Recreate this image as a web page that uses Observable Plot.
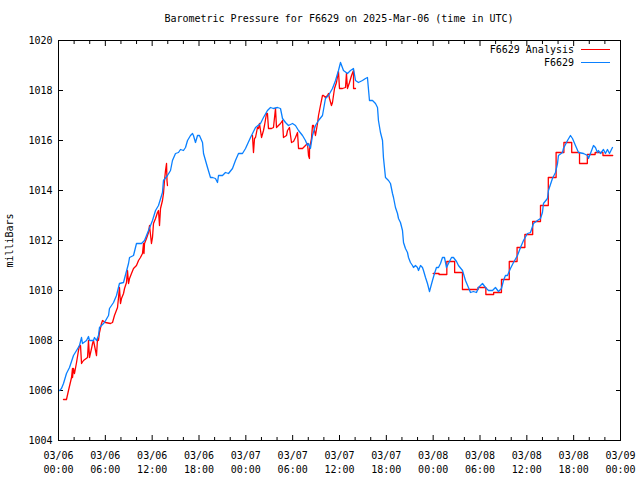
<!DOCTYPE html>
<html><head><meta charset="utf-8">
<script src="https://cdn.jsdelivr.net/npm/d3@7"></script>
<script src="https://cdn.jsdelivr.net/npm/@observablehq/plot@0.6"></script>
<style>
body{margin:0;background:#fff;font-family:"DejaVu Sans Mono",monospace;color:#000;}
#wrap{position:relative;width:640px;height:480px;overflow:hidden;}
#title{height:30px;box-sizing:border-box;padding:13px 20px 0 58px;text-align:center;font-size:10px;line-height:12px;white-space:nowrap;}
#legend{position:absolute;top:43px;left:420px;width:200px;font-size:10px;}
.row{display:flex;justify-content:flex-end;align-items:center;height:13px;padding-right:10px;}
.sw{width:29px;height:0;border-top:1.3px solid;margin-left:7px;}
</style></head>
<body>
<div id="wrap">
<div id="title">Barometric Pressure for F6629 on 2025-Mar-06 (time in UTC)</div>
<div id="chart"></div>
<div id="legend"></div>
</div>
<script>
const startUTC = Date.UTC(2025, 2, 6);
const endUTC = Date.UTC(2025, 2, 9);
const yTicks = [1004, 1006, 1008, 1010, 1012, 1014, 1016, 1018, 1020];
const seriesNames = ["F6629 Analysis", "F6629"];
const seriesColors = ["#ff0000", "#0a80ff"];

// observed pressure: [hours since 03/06 00:00 UTC, mb]
const observed = [[0.13,1006.0],[0.38,1006.08],[0.64,1006.28],[1.02,1006.68],[1.41,1006.92],[1.92,1007.4],[2.31,1007.6],[2.69,1007.8],[2.95,1008.12],[3.07,1007.88],[3.59,1008.0],[3.84,1008.16],[3.97,1008.0],[4.48,1008.0],[4.61,1008.12],[4.87,1008.0],[5.12,1008.2],[5.25,1008.52],[5.51,1008.6],[5.89,1008.72],[6.41,1009.0],[6.53,1009.28],[7.05,1009.52],[7.43,1009.8],[7.81,1010.28],[8.33,1010.32],[8.46,1010.48],[8.97,1011.08],[9.10,1011.32],[9.61,1011.4],[9.99,1011.88],[10.63,1011.88],[11.02,1012.0],[11.53,1012.4],[12.04,1012.8],[12.43,1013.2],[12.81,1013.4],[13.32,1013.92],[13.45,1014.4],[13.96,1014.6],[14.35,1014.8],[14.60,1015.2],[14.99,1015.48],[15.37,1015.52],[15.63,1015.64],[16.01,1015.6],[16.27,1015.72],[16.53,1016.0],[16.91,1016.2],[17.17,1016.28],[17.29,1016.2],[17.55,1015.92],[17.81,1016.2],[18.06,1016.2],[18.45,1015.92],[18.58,1015.48],[19.09,1014.92],[19.47,1014.52],[19.73,1014.52],[20.11,1014.48],[20.37,1014.32],[20.50,1014.6],[21.01,1014.6],[21.39,1014.72],[21.78,1014.68],[22.29,1014.88],[22.67,1015.2],[23.06,1015.48],[23.57,1015.48],[23.96,1015.68],[24.60,1016.12],[25.24,1016.52],[25.88,1016.68],[26.26,1016.92],[26.77,1017.2],[27.16,1017.32],[27.54,1017.28],[28.06,1017.32],[28.44,1017.28],[28.70,1016.88],[29.08,1016.72],[29.46,1016.6],[29.98,1016.68],[30.36,1016.6],[30.75,1016.4],[31.26,1016.2],[31.64,1016.0],[31.90,1015.8],[32.03,1015.88],[32.28,1015.68],[32.54,1016.2],[32.92,1016.6],[33.31,1016.8],[33.82,1017.0],[34.20,1017.68],[34.59,1017.8],[35.10,1018.08],[35.49,1018.4],[35.87,1018.8],[36.13,1019.12],[36.51,1018.8],[37.02,1018.68],[37.41,1018.8],[37.79,1018.88],[38.05,1018.4],[38.43,1018.32],[38.94,1018.4],[39.33,1018.48],[39.58,1018.52],[39.84,1017.6],[40.23,1017.6],[40.61,1017.48],[40.87,1017.32],[40.99,1016.8],[41.25,1016.32],[41.51,1016.0],[41.63,1015.32],[41.89,1014.52],[42.28,1014.4],[42.53,1014.28],[42.79,1013.88],[42.92,1013.72],[43.17,1013.32],[43.43,1013.08],[43.56,1012.88],[43.81,1012.72],[44.07,1012.4],[44.20,1011.92],[44.45,1011.68],[44.71,1011.52],[44.84,1011.32],[45.09,1011.12],[45.35,1011.0],[45.48,1010.92],[45.73,1011.0],[45.99,1010.92],[46.12,1010.8],[46.38,1011.0],[46.63,1010.92],[46.76,1010.8],[47.02,1010.52],[47.27,1010.28],[47.53,1009.96],[47.91,1010.4],[48.17,1010.68],[48.42,1010.92],[48.68,1010.92],[48.94,1011.08],[49.19,1011.32],[49.45,1011.32],[49.71,1010.92],[49.96,1011.08],[50.35,1011.32],[50.60,1011.32],[50.99,1011.16],[51.24,1011.0],[51.76,1010.8],[52.14,1010.4],[52.52,1010.12],[52.78,1009.92],[53.16,1009.96],[53.55,1009.92],[53.81,1010.12],[54.32,1010.28],[54.70,1010.12],[55.09,1010.0],[55.60,1010.0],[55.98,1010.12],[56.37,1009.96],[56.75,1010.08],[57.01,1010.4],[57.26,1010.6],[57.52,1010.6],[57.90,1010.88],[58.29,1011.12],[58.80,1011.4],[59.19,1011.72],[59.57,1012.0],[60.08,1012.28],[60.47,1012.32],[60.85,1012.68],[61.36,1012.8],[61.75,1012.88],[62.00,1013.12],[62.13,1013.48],[62.64,1013.68],[62.77,1014.0],[63.28,1014.48],[63.67,1014.72],[63.93,1015.08],[64.05,1015.4],[64.57,1015.52],[64.69,1015.68],[65.21,1016.0],[65.59,1016.2],[65.85,1016.08],[66.23,1015.8],[66.62,1015.52],[67.26,1015.48],[67.77,1015.4],[67.90,1015.28],[68.15,1015.48],[68.54,1015.8],[68.79,1015.72],[69.05,1015.52],[69.18,1015.6],[69.43,1015.48],[69.82,1015.64],[70.07,1015.48],[70.33,1015.64],[70.59,1015.48],[70.84,1015.64],[70.97,1015.72]];

// analysis, first run (03/06 morning)
const analysisRun1 = [[0.64,1005.64],[1.02,1005.64],[1.28,1006.0],[1.67,1006.52],[1.79,1006.88],[1.80,1006.52],[1.92,1006.88],[2.05,1006.68],[2.31,1007.12],[2.56,1007.6],[2.69,1007.8],[2.82,1007.8],[2.95,1007.08],[3.20,1007.2],[3.72,1007.32],[3.84,1008.0],[3.97,1007.32],[4.23,1007.68],[4.36,1007.88],[4.48,1008.0],[4.87,1007.4],[5.00,1008.08],[5.12,1008.0],[5.25,1008.32],[5.51,1008.68],[5.64,1008.8],[6.02,1008.72],[6.66,1008.68],[6.92,1008.72],[7.17,1009.0],[7.56,1009.32],[7.69,1009.72],[7.81,1010.12],[7.94,1009.48],[8.07,1009.68],[8.33,1009.88],[8.46,1010.08],[8.71,1010.32],[8.84,1010.8],[8.97,1010.28],[9.10,1010.48],[9.35,1010.68],[9.61,1010.88],[9.99,1011.0],[10.25,1011.2],[10.50,1011.32],[10.76,1011.48],[10.89,1011.88],[10.95,1011.48],[11.02,1011.88],[11.27,1012.08],[11.53,1012.32],[11.66,1012.6],[11.91,1011.88],[12.04,1012.12],[12.17,1012.68],[12.43,1012.88],[12.68,1013.12],[12.81,1013.2],[12.94,1012.6],[13.07,1013.28],[13.32,1013.6],[13.45,1013.88],[13.58,1014.4],[13.71,1014.8],[13.84,1015.08],[13.90,1014.4],[13.96,1014.2]];

// analysis, second run (03/07 daytime)
const analysisRun2 = [[24.85,1016.2],[24.98,1015.52],[25.11,1016.08],[25.24,1016.12],[25.49,1016.52],[25.62,1016.48],[25.75,1016.68],[26.01,1016.12],[26.26,1016.4],[26.39,1016.6],[26.65,1017.08],[26.77,1017.08],[26.90,1016.48],[27.29,1016.48],[27.54,1016.52],[27.80,1017.28],[27.93,1016.52],[28.18,1016.6],[28.44,1016.68],[28.70,1016.8],[28.82,1016.12],[29.21,1016.2],[29.34,1016.4],[29.59,1016.52],[29.85,1015.92],[30.11,1015.96],[30.36,1016.12],[30.62,1016.32],[30.75,1015.68],[31.26,1015.68],[31.64,1015.8],[31.90,1015.88],[32.03,1015.4],[32.15,1015.28],[32.16,1015.68],[32.41,1016.08],[32.54,1016.6],[32.67,1016.6],[32.92,1016.2],[33.18,1016.68],[33.31,1017.0],[33.56,1017.4],[33.82,1017.8],[33.95,1017.8],[34.20,1017.72],[34.46,1017.8],[34.59,1017.88],[34.72,1017.68],[34.97,1017.4],[35.10,1017.52],[35.23,1017.8],[35.36,1018.08],[35.61,1018.32],[35.87,1018.76],[36.00,1018.08],[36.38,1018.08],[36.77,1018.12],[36.89,1018.68],[37.02,1018.08],[37.28,1018.32],[37.54,1018.6],[37.79,1018.8],[37.80,1018.08],[38.05,1018.08]];

// analysis, third run (03/08, hourly steps)
const analysisSteps = [[48.0,1010.68],[48.75,1010.64],[49.75,1011.16],[50.75,1010.72],[51.75,1010.04],[52.75,1010.04],[53.75,1010.12],[54.75,1009.84],[55.75,1009.92],[56.75,1010.44],[57.75,1011.16],[58.75,1011.72],[59.75,1012.24],[60.75,1012.76],[61.75,1013.4],[62.75,1014.52],[63.75,1015.52],[64.75,1015.92],[65.75,1015.52],[66.75,1015.08],[67.75,1015.44],[68.75,1015.52],[69.75,1015.4],[71.0,1015.4]];

const toDate = h => new Date(startUTC + h * 3600e3);
const rows = (arr, run) => arr.map(([h, v]) => ({t: toDate(h), v, run}));
const obsData = rows(observed, "obs");
const anaLineData = rows(analysisRun1, "r1").concat(rows(analysisRun2, "r2"));
const anaStepData = rows(analysisSteps, "r3");

const majorTicks = d3.utcHour.every(6).range(new Date(startUTC), new Date(endUTC + 1));
const minorTicks = d3.utcHour.every(2).range(new Date(startUTC), new Date(endUTC + 1)).filter(d => d.getUTCHours() % 6 !== 0);
const fmt = d3.utcFormat("%m/%d\n%H:%M");

const chart = Plot.plot({
  width: 640,
  height: 450,
  marginLeft: 58,
  marginRight: 20,
  marginTop: 10,
  marginBottom: 40,
  style: {fontFamily: "DejaVu Sans Mono, monospace", fontSize: "10px", color: "#000", background: "#fff"},
  x: {type: "utc", domain: [new Date(startUTC), new Date(endUTC)]},
  y: {domain: [1004, 1020]},
  marks: [
    Plot.axisY({anchor: "left", ticks: yTicks, tickSize: 0, tickPadding: 6, tickFormat: d => String(d), label: "milliBars", labelAnchor: "center", labelArrow: "none", labelOffset: 53, fill: "#000"}),
    Plot.axisY({anchor: "left", ticks: yTicks, tickSize: -5, text: null, label: null}),
    Plot.axisY({anchor: "right", ticks: yTicks, tickSize: -5, text: null, label: null}),
    Plot.axisX({anchor: "bottom", ticks: majorTicks, tickSize: 0, tickPadding: 9, tickFormat: fmt, lineHeight: 1.4, label: null, fill: "#000"}),
    Plot.axisX({anchor: "bottom", ticks: majorTicks, tickSize: -5, text: null, label: null}),
    Plot.axisX({anchor: "bottom", ticks: minorTicks, tickSize: -3, text: null, label: null}),
    Plot.axisX({anchor: "top", ticks: majorTicks, tickSize: -5, text: null, label: null}),
    Plot.axisX({anchor: "top", ticks: minorTicks, tickSize: -3, text: null, label: null}),
    Plot.line(anaLineData, {x: "t", y: "v", z: "run", stroke: seriesColors[0], strokeWidth: 1.3}),
    Plot.line(anaStepData, {x: "t", y: "v", curve: "step-after", stroke: seriesColors[0], strokeWidth: 1.3}),
    Plot.line(obsData, {x: "t", y: "v", stroke: seriesColors[1], strokeWidth: 1.3}),
    Plot.frame({stroke: "#000", strokeWidth: 1})
  ]
});
document.getElementById("chart").appendChild(chart);

const legend = document.getElementById("legend");
seriesNames.forEach((name, i) => {
  const row = document.createElement("div");
  row.className = "row";
  const label = document.createElement("span");
  label.textContent = name;
  const sw = document.createElement("span");
  sw.className = "sw";
  sw.style.borderTopColor = seriesColors[i];
  row.appendChild(label);
  row.appendChild(sw);
  legend.appendChild(row);
});
</script>
</body></html>
